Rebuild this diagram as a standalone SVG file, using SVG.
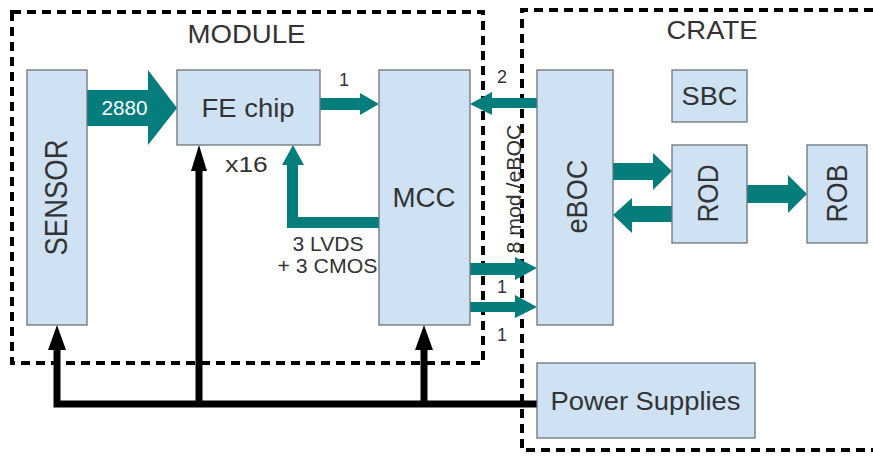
<svg xmlns="http://www.w3.org/2000/svg" width="873" height="456" viewBox="0 0 873 456">
<style>
.box{fill:#cfe2f3;stroke:#6d7379;stroke-width:1.3}
.t{font-family:"Liberation Sans",Arial,sans-serif;fill:#333;text-anchor:middle}
.dash{fill:none;stroke:#000;stroke-width:4;stroke-dasharray:9 6}
.teal{fill:#047d7c}
.pw{fill:none;stroke:#000;stroke-width:7}
</style>
<g id="frames">
<path class="dash" d="M12,12 H483 V363 H12 Z"/>
<path class="dash" d="M873,10 H522 V450 H873"/>
<text class="t" x="246.5" y="43" font-size="25" textLength="118" lengthAdjust="spacingAndGlyphs">MODULE</text>
<text class="t" x="712" y="39" font-size="25" textLength="91" lengthAdjust="spacingAndGlyphs">CRATE</text>
</g>
<g id="connectors">
<path class="pw" d="M537,404 H57 V348"/>
<path class="pw" d="M199,404 V170"/>
<path class="pw" d="M424,404 V348"/>
<path d="M48,350 L57,325 L66,350 Z" fill="#000"/>
<path d="M191,171 L199,145 L207,171 Z" fill="#000"/>
<path d="M415,350 L424,325 L433,350 Z" fill="#000"/>
<path class="teal" d="M87,90 H148 V70 L177,108 L148,145 V126 H87 Z"/>
<text x="124.5" y="115" font-family="Liberation Sans,Arial,sans-serif" font-size="20" fill="#fff" text-anchor="middle" textLength="46" lengthAdjust="spacingAndGlyphs">2880</text>
<path class="teal" d="M320,98 H360 V93 L379,104 L360,115 V110 H320 Z"/>
<text class="t" x="344" y="86" font-size="18">1</text>
<path class="teal" d="M379,217 H298 V165 H304 L293,145 L282,165 H287 V228 H379 Z"/>
<text class="t" x="328" y="251" font-size="20" textLength="71" lengthAdjust="spacingAndGlyphs">3 LVDS</text>
<text class="t" x="327.5" y="273" font-size="20" textLength="100" lengthAdjust="spacingAndGlyphs">+ 3 CMOS</text>
<text class="t" font-size="22" transform="translate(246.5,172) scale(1.2,1)">x16</text>
<path class="teal" d="M537,98 H492 V92 L470,104 L492,115 V108 H537 Z"/>
<text class="t" x="502" y="83" font-size="18">2</text>
<path class="teal" d="M470,263 H515 V257 L537,268 L515,280 V275 H470 Z"/>
<path class="teal" d="M470,302 H515 V295 L537,307 L515,318 V312 H470 Z"/>
<text class="t" x="502" y="293" font-size="18">1</text>
<text class="t" x="502" y="341" font-size="18">1</text>
<text class="t" font-size="19" transform="translate(521,189) scale(1.05,1) rotate(-90)" textLength="129" lengthAdjust="spacingAndGlyphs">8 mod./eBOC</text>
<path class="teal" d="M613,163 H653 V153 L672,171 L653,190 V180 H613 Z"/>
<path class="teal" d="M672,206 H632 V198 L613,215 L632,233 V222 H672 Z"/>
<path class="teal" d="M747,185 H788 V175 L807,194 L788,213 V203 H747 Z"/>
</g>
<g id="sensor">
<rect class="box" x="27" y="70" width="60" height="255"/>
<text class="t" font-size="28" transform="translate(67,197.5) scale(1.12,1) rotate(-90)" textLength="116" lengthAdjust="spacingAndGlyphs">SENSOR</text>
</g>
<g id="fe">
<rect class="box" x="177" y="70" width="143" height="75"/>
<text class="t" x="248" y="117" font-size="25" textLength="93" lengthAdjust="spacingAndGlyphs">FE chip</text>
</g>
<g id="mcc">
<rect class="box" x="379" y="70" width="91" height="255"/>
<text class="t" x="424" y="207" font-size="27" textLength="63" lengthAdjust="spacingAndGlyphs">MCC</text>
</g>
<g id="eboc">
<rect class="box" x="537" y="70" width="76" height="255"/>
<text class="t" font-size="27" transform="translate(587,196.5) scale(1.12,1) rotate(-90)" textLength="74" lengthAdjust="spacingAndGlyphs">eBOC</text>
</g>
<g id="sbc">
<rect class="box" x="672" y="70" width="75" height="52"/>
<text class="t" x="709.5" y="105" font-size="25" textLength="56" lengthAdjust="spacingAndGlyphs">SBC</text>
</g>
<g id="rod">
<rect class="box" x="672" y="145" width="75" height="98"/>
<text class="t" font-size="26" transform="translate(718,193.5) scale(1.12,1) rotate(-90)" textLength="58" lengthAdjust="spacingAndGlyphs">ROD</text>
</g>
<g id="rob">
<rect class="box" x="807" y="145" width="60" height="98"/>
<text class="t" font-size="26" transform="translate(847,193.5) scale(1.12,1) rotate(-90)" textLength="58" lengthAdjust="spacingAndGlyphs">ROB</text>
</g>
<g id="ps">
<rect class="box" x="537" y="363" width="218" height="75"/>
<text class="t" x="645.5" y="410" font-size="25" textLength="190" lengthAdjust="spacingAndGlyphs">Power Supplies</text>
</g>
</svg>
